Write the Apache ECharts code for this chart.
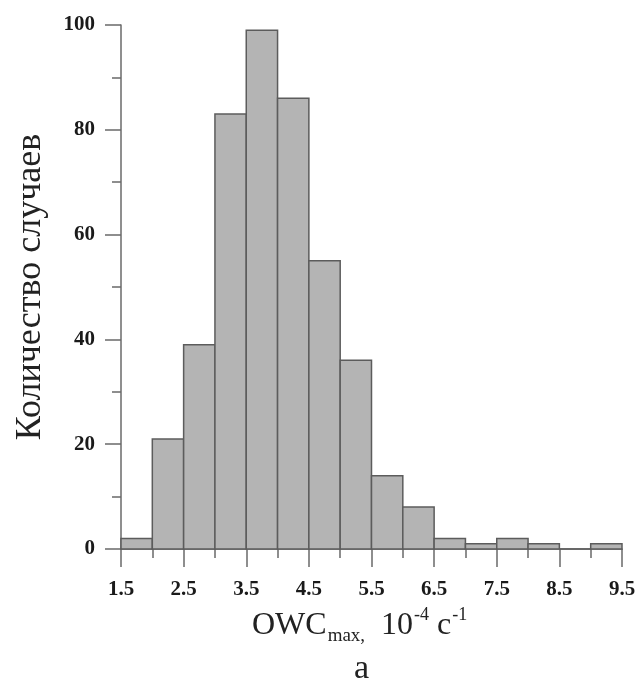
<!DOCTYPE html>
<html>
<head>
<meta charset="utf-8">
<script src="https://cdn.jsdelivr.net/npm/echarts@6/dist/echarts.min.js"></script>
<style>
html,body{margin:0;padding:0;background:#fff;}
#chart{width:643px;height:691px;}
</style>
</head>
<body>
<div id="chart"></div>
<script>
// Histogram bins (OWC_max, 10^-4 s^-1)
const binStart = [1.5, 2.0, 2.5, 3.0, 3.5, 4.0, 4.5, 5.0, 5.5, 6.0, 6.5, 7.0, 7.5, 8.0, 8.5, 9.0];
const binEnd   = [2.0, 2.5, 3.0, 3.5, 4.0, 4.5, 5.0, 5.5, 6.0, 6.5, 7.0, 7.5, 8.0, 8.5, 9.0, 9.5];
const counts   = [2, 21, 39, 83, 99, 86, 55, 36, 14, 8, 2, 1, 2, 1, 0, 1];
const binEdges = [1.5, 2.0, 2.5, 3.0, 3.5, 4.0, 4.5, 5.0, 5.5, 6.0, 6.5, 7.0, 7.5, 8.0, 8.5, 9.0, 9.5];
const xTickLabels = [1.5, 2.5, 3.5, 4.5, 5.5, 6.5, 7.5, 8.5, 9.5];
const yTickLabels = [0, 20, 40, 60, 80, 100];

const serif = '"Liberation Serif", "DejaVu Serif", serif';
const axisColor = '#6a6a6a';

const chart = echarts.init(document.getElementById('chart'));
const data = binStart.map((s, i) => [s, binEnd[i], counts[i]]);

chart.setOption({
  animation: false,
  backgroundColor: '#fff',
  grid: { left: 121, right: 21, top: 25, bottom: 142 },
  title: {
    text: '{n|OWC}{s|max,}{n|  10}{p|-4}{n| c}{p|-1}',
    left: 247, top: 601,
    textStyle: {
      fontWeight: 'normal',
      rich: {
        n: { fontFamily: serif, fontWeight: 'normal', fontSize: 32, color: '#222', lineHeight: 40, verticalAlign: 'middle' },
        s: { fontFamily: serif, fontWeight: 'normal', fontSize: 19, color: '#222', lineHeight: 40, verticalAlign: 'bottom', padding: [16, 0, 0, 1] },
        p: { fontFamily: serif, fontWeight: 'normal', fontSize: 18, color: '#222', lineHeight: 40, verticalAlign: 'top', padding: [0, 0, 12, 1] }
      }
    }
  },
  graphic: [{
    type: 'text', left: 354, top: 652,
    style: { text: 'a', font: '34px ' + serif, fill: '#222' }
  }],
  xAxis: [{
    type: 'value', min: 1.5, max: 9.5, position: 'bottom',
    axisLine: { show: true, lineStyle: { color: axisColor, width: 1.5 } },
    axisTick: { show: true, customValues: binEdges, length: 9, lineStyle: { color: axisColor, width: 1.5 } },
    axisLabel: { show: false },
    splitLine: { show: false }
  }, {
    type: 'value', min: 1.5, max: 9.5, position: 'bottom',
    axisLine: { show: false },
    axisTick: { show: true, customValues: xTickLabels, length: 18, lineStyle: { color: axisColor, width: 1.5 } },
    axisLabel: { show: true, customValues: xTickLabels, margin: 30,
      formatter: v => v.toFixed(1),
      fontFamily: serif, fontWeight: 'bold', fontSize: 21, color: '#1a1a1a' },
    splitLine: { show: false }
  }],
  yAxis: {
    type: 'value', min: 0, max: 100, interval: 20,
    name: 'Количество случаев', nameLocation: 'middle', nameGap: 72, nameRotate: 90,
    nameTextStyle: { fontFamily: serif, fontSize: 36, color: '#222' },
    axisLine: { show: true, lineStyle: { color: axisColor, width: 1.5 } },
    axisTick: { show: true, inside: false, length: 16, lineStyle: { color: axisColor, width: 1.5 } },
    minorTick: { show: true, splitNumber: 2, length: 9, lineStyle: { color: axisColor, width: 1.5 } },
    axisLabel: { margin: 26, fontFamily: serif, fontWeight: 'bold', fontSize: 21, color: '#1a1a1a' },
    splitLine: { show: false }
  },
  series: [{
    type: 'custom',
    xAxisIndex: 0,
    data: data,
    encode: { x: [0, 1], y: 2 },
    renderItem: function (params, api) {
      const p0 = api.coord([api.value(0), api.value(2)]);
      const p1 = api.coord([api.value(1), 0]);
      return {
        type: 'rect',
        shape: { x: p0[0], y: p0[1], width: p1[0] - p0[0], height: p1[1] - p0[1] },
        style: { fill: '#b4b4b4', stroke: '#5c5c5c', lineWidth: 1.5 }
      };
    }
  }]
});
</script>
</body>
</html>
